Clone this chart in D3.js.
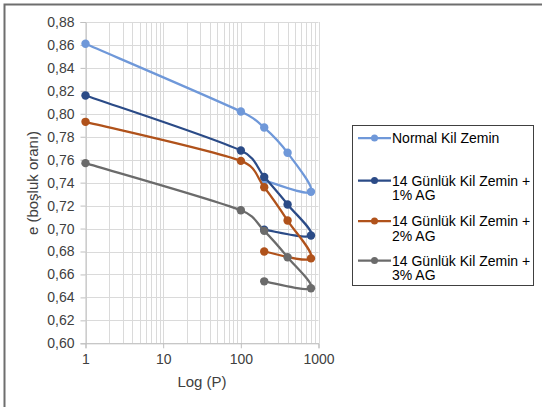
<!DOCTYPE html>
<html>
<head>
    <title>Log (P) - e</title>
    <script type="text/javascript" src="https://d3js.org/d3.v7.min.js"></script>
    <style>
	body {
		margin: 0;
		background: #fff;
		font-family: "Liberation Sans", Arial, sans-serif;
	}
	.tick text {
		font-size: 14px;
		fill: #404040;
	}
	.labels {
		font-size: 15px;
		fill: #404040;
	}
	.legend text {
		font-size: 14px;
		fill: #000;
	}
    </style>
</head>
<body>
<script>

	// ---------------------------- data ----------------------------------
	var pressure = [1, 100, 200, 400, 800, 200];		// last point = unloading
	var seriesNames = [
		["Normal Kil Zemin"],
		["14 Günlük Kil Zemin +", "1% AG"],
		["14 Günlük Kil Zemin +", "2% AG"],
		["14 Günlük Kil Zemin +", "3% AG"]
	];
	var normalKil = [0.861, 0.802, 0.788, 0.766, 0.732, 0.742];
	var ag1 = [0.816, 0.768, 0.745, 0.721, 0.694, 0.699];
	var ag2 = [0.793, 0.759, 0.736, 0.707, 0.674, 0.680];
	var ag3 = [0.757, 0.716, 0.698, 0.675, 0.648, 0.654];
	var colors = ["#6f98d9", "#2b4b87", "#b0521b", "#6b6b6b"];
	var xTicks = [1, 10, 100, 1000];
	var yTicks = d3.range(0.60, 0.8801, 0.02);

	var allSeries = [normalKil, ag1, ag2, ag3];

	var svgCanvas = d3.select("body").append("svg")
		.attr("width", 542)
		.attr("height", 407);

	// outer frame (only top and left show in the picture)
	svgCanvas.append("rect")
		.attr("x", 4.5).attr("y", 4.5)
		.attr("width", 600).attr("height", 500)
		.attr("fill", "none")
		.attr("stroke", "#6e6e6e")
		.attr("stroke-width", 2);

	// scales
	var xScale = d3.scaleLog().domain([1, 1000]).range([85.5, 318.5]);
	var yScale = d3.scaleLinear().domain([0.60, 0.88]).range([343.3, 22]);

	// grid
	var minorX = [];
	[1, 10, 100].forEach(function (dec) {
		for (var k = 1; k <= 10; k++) minorX.push(dec * k);
	});
	var grid = svgCanvas.append("g");
	grid.selectAll(".vgrid").data(minorX).enter().append("line")
		.attr("x1", function (d) { return Math.round(xScale(d)) + 0.5; })
		.attr("x2", function (d) { return Math.round(xScale(d)) + 0.5; })
		.attr("y1", yScale(0.88)).attr("y2", yScale(0.60))
		.attr("stroke", "#dadada");
	grid.selectAll(".hgrid").data(yTicks).enter().append("line")
		.attr("x1", xScale(1)).attr("x2", xScale(1000))
		.attr("y1", function (d) { return Math.round(yScale(d)) + 0.5; })
		.attr("y2", function (d) { return Math.round(yScale(d)) + 0.5; })
		.attr("stroke", "#dadada");

	// axes
	var fmt = function (d) { return d3.format(".2f")(d).replace(".", ","); };
	var yAxis = d3.axisLeft(yScale).tickValues(yTicks).tickFormat(fmt).tickSize(5).tickPadding(6);
	var xAxis = d3.axisBottom(xScale).tickValues(xTicks).tickFormat(d3.format("d")).tickSize(5).tickPadding(6);

	var gy = svgCanvas.append("g").attr("transform", "translate(" + xScale(1) + ",0)").call(yAxis);
	var gx = svgCanvas.append("g").attr("transform", "translate(0," + yScale(0.60) + ")").call(xAxis);
	[gx, gy].forEach(function (g) {
		g.selectAll("path, line").attr("stroke", "#bfbfbf");
		g.select(".domain").attr("stroke", "#bfbfbf");
		g.selectAll("text").style("font-family", "Liberation Sans, Arial, sans-serif");
	});

	// axis labels
	svgCanvas.append("text").text("Log (P)")
		.attr("x", 202).attr("y", 387)
		.attr("text-anchor", "middle").attr("class", "labels");
	svgCanvas.append("text").text("e (boşluk oranı)")
		.attr("transform", "translate(38,183) rotate(-90)")
		.attr("text-anchor", "middle").attr("class", "labels");

	//
	// smoothing like excel: bezier with tangent (p2-p0)/6,
	// tangent length limited to half of the segment
	//
	function excelSmooth(context) {
		var pts;
		function tangent(a, b, half) {
			var dx = (b[0] - a[0]) / 6, dy = (b[1] - a[1]) / 6;
			var len = Math.sqrt(dx * dx + dy * dy);
			if (len > half) { dx *= half / len; dy *= half / len; }
			return [dx, dy];
		}
		return {
			areaStart: function () {}, areaEnd: function () {},
			lineStart: function () { pts = []; },
			point: function (x, y) { pts.push([+x, +y]); },
			lineEnd: function () {
				var n = pts.length;
				if (!n) return;
				context.moveTo(pts[0][0], pts[0][1]);
				for (var i = 0; i < n - 1; i++) {
					var p0 = pts[Math.max(i - 1, 0)], p1 = pts[i], p2 = pts[i + 1], p3 = pts[Math.min(i + 2, n - 1)];
					var half = Math.sqrt(Math.pow(p2[0] - p1[0], 2) + Math.pow(p2[1] - p1[1], 2)) / 2;
					var t1 = tangent(p0, p2, half), t2 = tangent(p1, p3, half);
					context.bezierCurveTo(p1[0] + t1[0], p1[1] + t1[1], p2[0] - t2[0], p2[1] - t2[1], p2[0], p2[1]);
				}
			}
		};
	}

	var line = d3.line()
		.x(function (d) { return xScale(d[0]); })
		.y(function (d) { return yScale(d[1]); })
		.curve(excelSmooth);

	var plotArea = svgCanvas.append("g");
	allSeries.forEach(function (vals, i) {
		var pts = vals.map(function (v, j) { return [pressure[j], v]; });
		plotArea.append("path")
			.datum(pts)
			.attr("d", line)
			.attr("fill", "none")
			.attr("stroke", colors[i])
			.attr("stroke-width", 2.25);
		plotArea.selectAll(".pt" + i).data(pts).enter().append("circle")
			.attr("cx", function (d) { return xScale(d[0]); })
			.attr("cy", function (d) { return yScale(d[1]); })
			.attr("r", 4.2)
			.attr("fill", colors[i]);
	});

	// legend
	var legend = svgCanvas.append("g").attr("class", "legend");
	legend.append("rect")
		.attr("x", 352.5).attr("y", 125.5)
		.attr("width", 181).attr("height", 160)
		.attr("fill", "#fff")
		.attr("stroke", "#404040");
	var legendY = [138, 180.5, 221, 260.5];
	seriesNames.forEach(function (name, i) {
		var g = legend.append("g").attr("transform", "translate(0," + legendY[i] + ")");
		g.append("line").attr("x1", 358).attr("x2", 391).attr("y1", 0).attr("y2", 0)
			.attr("stroke", colors[i]).attr("stroke-width", 2.25);
		g.append("circle").attr("cx", 374.5).attr("cy", 0).attr("r", 3.5).attr("fill", colors[i]);
		name.forEach(function (t, k) {
			g.append("text").text(t).attr("x", 392).attr("y", 5 + k * 14.7);
		});
	});

</script>
</body>
</html>
